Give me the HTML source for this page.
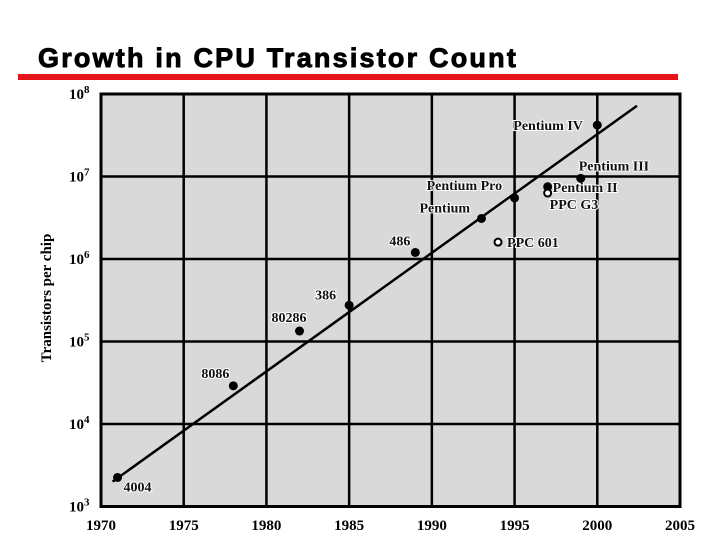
<!DOCTYPE html>
<html><head><meta charset="utf-8"><style>
body{margin:0;background:#fff;width:720px;height:540px;overflow:hidden}
svg{display:block}
.t{font-family:"Liberation Serif",serif;font-weight:bold;font-size:15px;fill:#000}
.lbl{font-family:"Liberation Serif",serif;font-weight:bold;font-size:14px;fill:#111;stroke:#fff;stroke-width:2px;paint-order:stroke}
</style></head><body>
<svg id="chart" width="720" height="540">
<text x="38" y="67" font-family="Liberation Sans,sans-serif" font-weight="bold" font-size="27" letter-spacing="2.2" stroke="#000" stroke-width="0.9">Growth in CPU Transistor Count</text>
<rect x="18" y="74" width="660" height="6" fill="#e8141b"/>
<g id="plot"></g>
<text class="t" transform="translate(51,298) rotate(-90)" text-anchor="middle" font-size="17">Transistors per chip</text>
</svg>
<script>
const years=[1971,1978,1982,1985,1989,1993,1995,1997,1999,2000];
const counts=[2250,29000,134000,275000,1200000,3100000,5500000,7500000,9500000,42000000];
const names=["4004","8086","80286","386","486","Pentium","Pentium Pro","Pentium II","Pentium III","Pentium IV"];
const openYears=[1997,1994];
const openCounts=[6300000,1600000];
const openNames=["PPC G3","PPC 601"];
const trendYears=[1970.7,2002.4];
const trendCounts=[2000,72000000];
const xTicks=[1970,1975,1980,1985,1990,1995,2000,2005];
const yExps=[3,4,5,6,7,8];

const L=101,R=680,T=94,B=506.5;
const x=v=>L+(v-1970)/35*(R-L);
const y=v=>B-(Math.log10(v)-3)/5*(B-T);
const NS="http://www.w3.org/2000/svg";
const g=document.getElementById('plot');
function mk(t,a){const e=document.createElementNS(NS,t);for(const k in a)e.setAttribute(k,a[k]);g.appendChild(e);return e;}
let e=mk('rect',{x:L,y:T,width:R-L,height:B-T,fill:'#d9d9d9',stroke:'#000','stroke-width':3});


xTicks.forEach(v=>{
 if(v>1970&&v<2005){const l=mk('line',{x1:x(v),x2:x(v),y1:T,y2:B,stroke:'#000','stroke-width':2.5});
 
 }
 const t=mk('text',{x:x(v),y:530,'text-anchor':'middle',class:'t'});t.textContent=v;
 
 
});
yExps.forEach(p=>{
 const yy=y(Math.pow(10,p));
 if(p>3&&p<8){const l=mk('line',{x1:L,x2:R,y1:yy,y2:yy,stroke:'#000','stroke-width':2.5});
 
 }
 const t=mk('text',{x:69,y:yy+5,class:'t'});t.innerHTML='10<tspan dy="-6" font-size="11">'+p+'</tspan>';
 
 
});
e=mk('line',{x1:x(trendYears[0]),y1:y(trendCounts[0]),x2:x(trendYears[1]),y2:y(trendCounts[1]),stroke:'#000','stroke-width':2.5});


const off=[[6,14],[-32,-8],[-28,-9],[-34,-6],[-26,-7],[-62,-6],[-88,-8],[5,5],[-2,-8],[-84,5]];
years.forEach((yr,i)=>{
 const cx=x(yr),cy=y(counts[i]);
 const c=mk('circle',{cx,cy,r:4.5,fill:'#000'});
 
 
 const t=mk('text',{x:cx+off[i][0],y:cy+off[i][1],class:'lbl'});t.textContent=names[i];
 
 
});
const off2=[[2,16],[9,5]];
openYears.forEach((yr,i)=>{
 const cx=x(yr),cy=y(openCounts[i]);
 const c=mk('circle',{cx,cy,r:3.5,fill:'#fff',stroke:'#000','stroke-width':2});
 
 
 const t=mk('text',{x:cx+off2[i][0],y:cy+off2[i][1],class:'lbl'});t.textContent=openNames[i];
 
 
});
</script>
</body></html>
